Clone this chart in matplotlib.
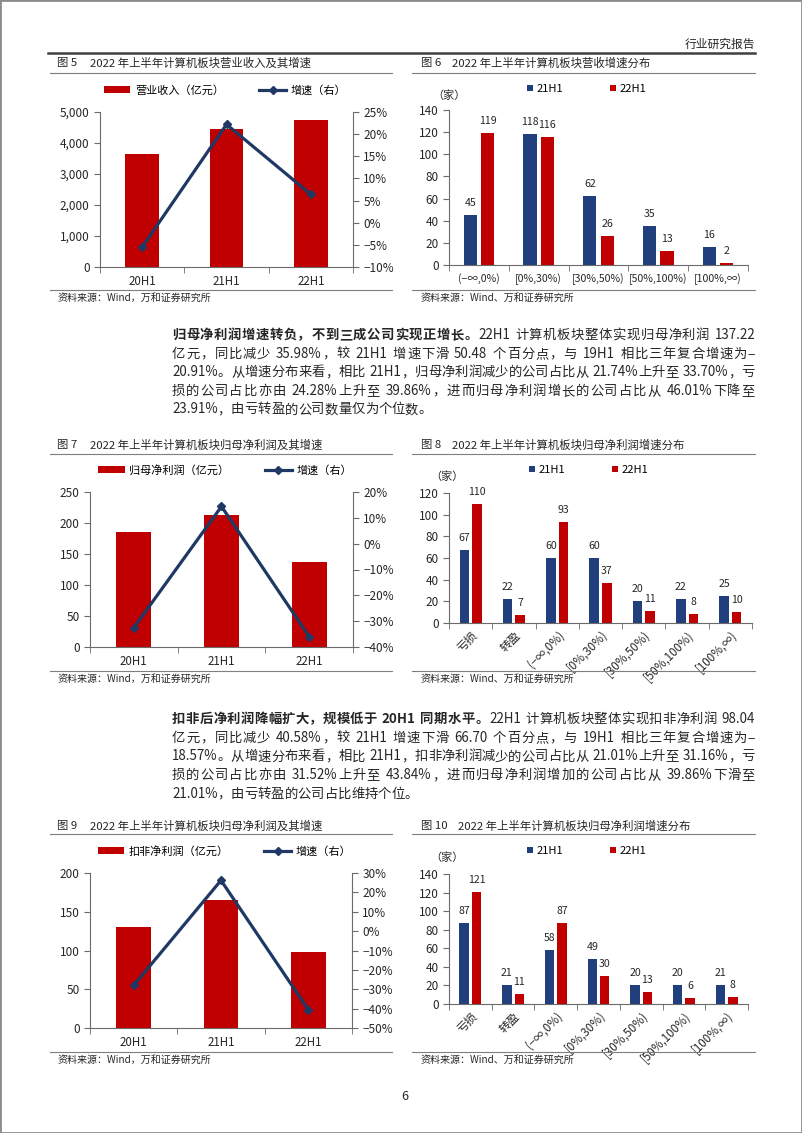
import re

import numpy as np
import matplotlib
matplotlib.use("Agg")
import matplotlib.pyplot as plt
from matplotlib.lines import Line2D
from matplotlib.patches import Rectangle
from matplotlib.ticker import FuncFormatter, FixedLocator

plt.rcParams["font.family"] = ["Noto Sans CJK SC", "DejaVu Sans"]
plt.rcParams["axes.unicode_minus"] = True

# ---- data ----
periods = ["20H1", "21H1", "22H1"]
revenue = [3630, 4450, 4730]            # 营业收入（亿元）
revenue_growth = [-5.5, 22.2, 6.4]      # %
profit = [186, 213, 137.22]             # 归母净利润（亿元）
profit_growth = [-32.5, 14.4, -35.98]
deducted = [130, 165, 98.04]            # 扣非净利润（亿元）
deducted_growth = [-28.0, 26.2, -40.58]

rev_bins = ["(−∞,0%)", "[0%,30%)", "[30%,50%)", "[50%,100%)", "[100%,∞)"]
rev_21h1 = [45, 118, 62, 35, 16]
rev_22h1 = [119, 116, 26, 13, 2]

np_bins = ["亏损", "转盈", "(−∞,0%)", "[0%,30%)", "[30%,50%)", "[50%,100%)", "[100%,∞)"]
np_21h1 = [67, 22, 60, 60, 20, 22, 25]
np_22h1 = [110, 7, 93, 37, 11, 8, 10]
dnp_21h1 = [87, 21, 58, 49, 20, 20, 21]
dnp_22h1 = [121, 11, 87, 30, 13, 6, 8]

para1 = [
    [("归母净利润增速转负，不到三成公司实现正增长。", "bold"), ("22H1 计算机板块整体实现归母净利润 137.22", "normal")],
    [("亿元，同比减少 35.98%，较 21H1 增速下滑 50.48 个百分点，与 19H1 相比三年复合增速为−", "normal")],
    [("20.91%。从增速分布来看，相比 21H1，归母净利润减少的公司占比从 21.74%上升至 33.70%，亏", "normal")],
    [("损的公司占比亦由 24.28%上升至 39.86%，进而归母净利润增长的公司占比从 46.01%下降至", "normal")],
    [("23.91%，由亏转盈的公司数量仅为个位数。", "normal")],
]
para2 = [
    [("扣非后净利润降幅扩大，规模低于 20H1 同期水平。", "bold"), ("22H1 计算机板块整体实现扣非净利润 98.04", "normal")],
    [("亿元，同比减少 40.58%，较 21H1 增速下滑 66.70 个百分点，与 19H1 相比三年复合增速为−", "normal")],
    [("18.57%。从增速分布来看，相比 21H1，扣非净利润减少的公司占比从 21.01%上升至 31.16%，亏", "normal")],
    [("损的公司占比亦由 31.52%上升至 43.84%，进而归母净利润增加的公司占比从 39.86%下滑至", "normal")],
    [("21.01%，由亏转盈的公司占比维持个位。", "normal")],
]

RED = "#C00000"
NAVY = "#1F3864"
BLUE = "#203F7C"
AXC = "#6b6b6b"
TXT = "#262626"

W, H = 802, 1133
fig = plt.figure(figsize=(W / 100, H / 100), dpi=100)
renderer = fig.canvas.get_renderer()


def fx(x):
    return x / W


def fy(y):
    return 1 - y / H


def add_ax(l, t, r, b):
    return fig.add_axes([l / W, 1 - b / H, (r - l) / W, (b - t) / H])


def hline(x0, x1, y, lw=0.8, color="#7f7f7f"):
    fig.add_artist(Line2D([fx(x0), fx(x1)], [fy(y), fy(y)], lw=lw, color=color,
                          transform=fig.transFigure))


def text(x, y, s, size=8, ha="left", **kw):
    return fig.text(fx(x), fy(y), s, fontsize=size, ha=ha, va="center", color=TXT, **kw)


TOKEN = re.compile(r"[A-Za-z0-9.%]+|\s+|.")


def draw_line(segments, x0, y, width=None, size=9.6):
    # lay out one justified line of body text token by token
    items = []
    for s, weight in segments:
        for tok in TOKEN.findall(s):
            if tok.isspace():
                items.append((None, size * 0.3 * 100 / 72))
            else:
                t = text(0, y, tok, size=size, fontweight=weight)
                items.append((t, t.get_window_extent(renderer).width))
    total = sum(w for _, w in items)
    extra = (width - total) / (len(items) - 1) if width else 0
    x = x0
    for t, w in items:
        if t is not None:
            t.set_x(fx(x))
        x += w + extra


def style_axis(ax, n, xsize=8.3):
    for s in ["top", "right"]:
        ax.spines[s].set_visible(False)
    for s in ["left", "bottom"]:
        ax.spines[s].set_color(AXC)
        ax.spines[s].set_linewidth(0.8)
    ax.set_xlim(-0.5, n - 0.5)
    ax.xaxis.set_minor_locator(FixedLocator(np.arange(-0.5, n, 1.0)))
    ax.tick_params(axis="x", which="major", length=0, pad=6, labelsize=xsize, labelcolor=TXT)
    ax.tick_params(axis="x", which="minor", length=4, color=AXC, direction="out")
    ax.tick_params(axis="y", length=4, color=AXC, labelsize=8.5, labelcolor=TXT)


def pct(v, _):
    return f"{v:.0f}%".replace("-", "−")


def combo(ax, values, growth, label, ylim, ystep, rlim, rstep, fmt, lx):
    x = np.arange(len(periods))
    ax.bar(x, values, width=0.4, color=RED, label=label)
    style_axis(ax, len(periods))
    ax.set_xticks(x)
    ax.set_xticklabels(periods)
    ax.set_ylim(*ylim)
    ax.set_yticks(np.arange(ylim[0], ylim[1] + 1, ystep))
    ax.yaxis.set_major_formatter(FuncFormatter(fmt))
    ax2 = ax.twinx()
    ax2.plot(x, growth, color=NAVY, lw=2.3, marker="D", ms=4, label="增速（右）")
    for s in ["top", "left", "bottom"]:
        ax2.spines[s].set_visible(False)
    ax2.spines["right"].set_color(AXC)
    ax2.spines["right"].set_linewidth(0.8)
    ax2.set_ylim(*rlim)
    ax2.set_yticks(np.arange(rlim[0], rlim[1] + 1, rstep))
    ax2.yaxis.set_major_formatter(FuncFormatter(pct))
    ax2.tick_params(axis="y", length=4, color=AXC, labelsize=8.5, labelcolor=TXT)
    h1, l1 = ax.get_legend_handles_labels()
    h2, l2 = ax2.get_legend_handles_labels()
    ax.legend(h1 + h2, l1 + l2, loc="center", bbox_to_anchor=(lx, 1.14), ncol=2,
              frameon=False, fontsize=8, handlelength=2.4, handleheight=0.55,
              columnspacing=3.2, handletextpad=0.4)


def dist(ax, cats, a, b, ymax, rotate):
    x = np.arange(len(cats))
    r1 = ax.bar(x - 0.145, a, 0.22, color=BLUE, label="21H1")
    r2 = ax.bar(x + 0.145, b, 0.22, color=RED, label="22H1")
    ax.bar_label(r1, padding=5, fontsize=7.6, color=TXT)
    ax.bar_label(r2, padding=5, fontsize=7.6, color=TXT)
    style_axis(ax, len(cats), 8.3 if rotate else 7.6)
    ax.set_xticks(x)
    if rotate:
        ax.set_xticklabels(cats, rotation=45, ha="right", rotation_mode="anchor")
        ax.tick_params(axis="x", which="major", pad=4)
    else:
        ax.set_xticklabels(cats)
    ax.set_ylim(0, ymax)
    ax.set_yticks(np.arange(0, ymax + 1, 20))
    yc = 1.135 if not rotate else 1.177
    ax.legend(loc="center", bbox_to_anchor=(0.46, yc), ncol=2, frameon=False,
              fontsize=8, handlelength=0.55, handleheight=0.55, columnspacing=4.2,
              handletextpad=0.3)


# ---- page furniture ----
fig.add_artist(Rectangle((0, 0), 1, 1, transform=fig.transFigure, fill=False,
                         edgecolor="#8c8c8c", lw=2))
text(755, 44, "行业研究报告", size=8.5, ha="right")
hline(48, 755, 53, lw=1.8, color="#404040")
text(401, 1097, "6", size=9)

titles = [
    (73, 63, "图 5", "2022 年上半年计算机板块营业收入及其增速", "图 6", "2022 年上半年计算机板块营收增速分布", 290, 298),
    (454, 445, "图 7", "2022 年上半年计算机板块归母净利润及其增速", "图 8", "2022 年上半年计算机板块归母净利润增速分布", 671, 679),
    (834, 826, "图 9", "2022 年上半年计算机板块归母净利润及其增速", "图 10", "2022 年上半年计算机板块归母净利润增速分布", 1052, 1060),
]
for uy, ty, ln, lt, rn, rt, sy, st in titles:
    text(57, ty, ln, size=8.2)
    text(90, ty, lt, size=8.2)
    text(421, ty, rn, size=8.2)
    text(452 if rn != "图 10" else 458, ty, rt, size=8.2)
    hline(50, 392, uy)
    hline(412, 755, uy)
    hline(50, 392, sy)
    hline(412, 755, sy)
    text(58, st, "资料来源：Wind，万和证券研究所", size=7.2)
    text(421, st, "资料来源：Wind、万和证券研究所", size=7.2)

# ---- charts ----
ax5 = add_ax(100, 112, 353, 267)
combo(ax5, revenue, revenue_growth, "营业收入（亿元）", (0, 5000), 1000, (-10, 25), 5,
      lambda v, _: f"{v:,.0f}", 0.494)
ax6 = add_ax(449, 110, 748, 265)
dist(ax6, rev_bins, rev_21h1, rev_22h1, 140, False)
text(432, 96, "（家）", size=8)

ax7 = add_ax(90, 492, 353, 647)
combo(ax7, profit, profit_growth, "归母净利润（亿元）", (0, 250), 50, (-40, 20), 10,
      lambda v, _: f"{v:.0f}", 0.513)
ax8 = add_ax(449, 493, 752, 623)
dist(ax8, np_bins, np_21h1, np_22h1, 120, True)
text(430, 477, "（家）", size=8)

ax9 = add_ax(90, 873, 352, 1028)
combo(ax9, deducted, deducted_growth, "扣非净利润（亿元）", (0, 200), 50, (-50, 30), 10,
      lambda v, _: f"{v:.0f}", 0.513)
ax10 = add_ax(449, 874, 748, 1004)
dist(ax10, np_bins, dnp_21h1, dnp_22h1, 140, True)
text(430, 858, "（家）", size=8)

# ---- body text ----
for i, line in enumerate(para1):
    draw_line(line, 172, 335 + 18.6 * i, None if i == len(para1) - 1 else 583)
for i, line in enumerate(para2):
    draw_line(line, 172, 719 + 18.7 * i, None if i == len(para2) - 1 else 583)

fig.savefig("out.png", dpi=100)
